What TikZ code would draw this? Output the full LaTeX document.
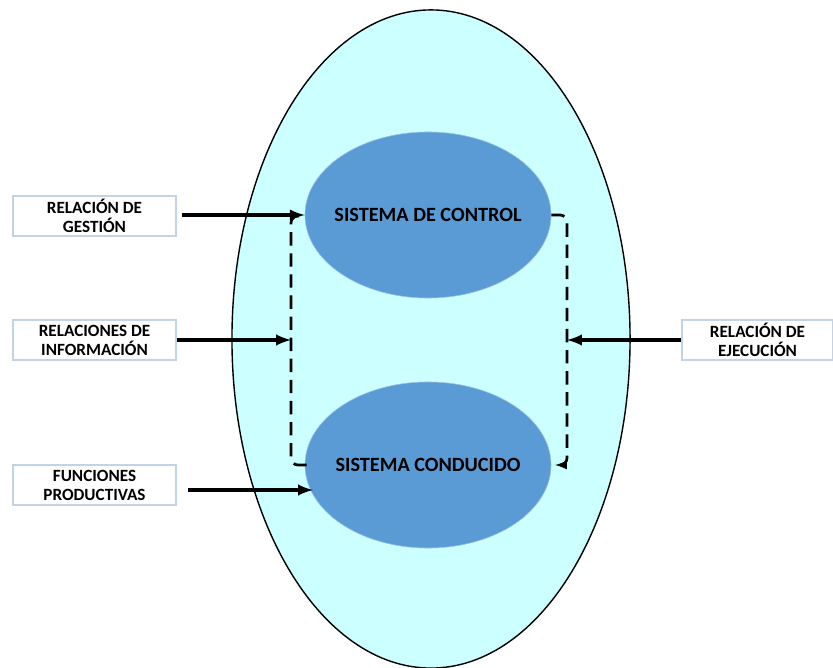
\documentclass[tikz,border=0pt]{standalone}
\usepackage{fontspec}
\setmainfont{Carlito}
\usetikzlibrary{positioning, arrows, shapes.geometric}

\definecolor{fondo}{HTML}{CCFFFF}
\definecolor{azul}{HTML}{5B9BD5}
\definecolor{borde}{HTML}{C2D3E8}

\begin{document}
\begin{tikzpicture}[>=latex, x=0.025cm, y=-0.025cm,
  sistema/.style={ellipse, draw=azul!60!white, fill=azul, inner sep=0pt, minimum width=6.15cm, minimum height=4.15cm,
    label={[font=\bfseries\fontsize{14.4}{17}\selectfont]center:#1}},
  etiqueta/.style={rectangle, draw=borde, line width=0.8pt, fill=white, minimum width=4.075cm, minimum height=1cm, align=center, font=\bfseries\fontsize{12.2}{13.5}\selectfont, inner sep=1pt},
  flecha/.style={->, line width=2.6pt},
  retorno/.style={line width=1.9pt, dash pattern=on 9.5pt off 5.5pt, rounded corners=5pt}]

\useasboundingbox (0,0) rectangle (833,668);

% Define the big ellipse
\draw[fill=fondo, line width=1pt] (431,339) ellipse [x radius=4.975cm, y radius=8.225cm];

% Define nodes
\node[sistema={SISTEMA DE CONTROL}] (ctrl) at (428,215) {};
\node[sistema={SISTEMA CONDUCIDO}] (cond) at (428,465) {};

\node[etiqueta] (gest) at (94.5,216) {RELACIÓN DE\\GESTIÓN};
\node[etiqueta] (info) at (94.5,340) {RELACIONES DE\\INFORMACIÓN};
\node[etiqueta] (func) at (94.5,485) {FUNCIONES\\PRODUCTIVAS};
\node[etiqueta, minimum width=3.775cm] (ejec) at (757.5,340) {RELACIÓN DE\\EJECUCIÓN};

\coordinate (izqa) at (299,216);
\coordinate (izqb) at (307,465);
\coordinate (derb) at (555,465);
\coordinate (inicio) at (182,215);
\coordinate (prod) at (188,490);

% Draw edges with arrows
\draw[retorno] (izqa) -| (291,340) |- (izqb);
\draw[retorno, ->] (ctrl.east) -| (567,340) |- (derb);

\draw[flecha] (inicio) -- (ctrl.west);
\draw[flecha] (info.east) -- (291,340);
\draw[flecha] (prod) -- (313,490);
\draw[flecha] (ejec.west) -- (567,340);

\end{tikzpicture}
\end{document}
